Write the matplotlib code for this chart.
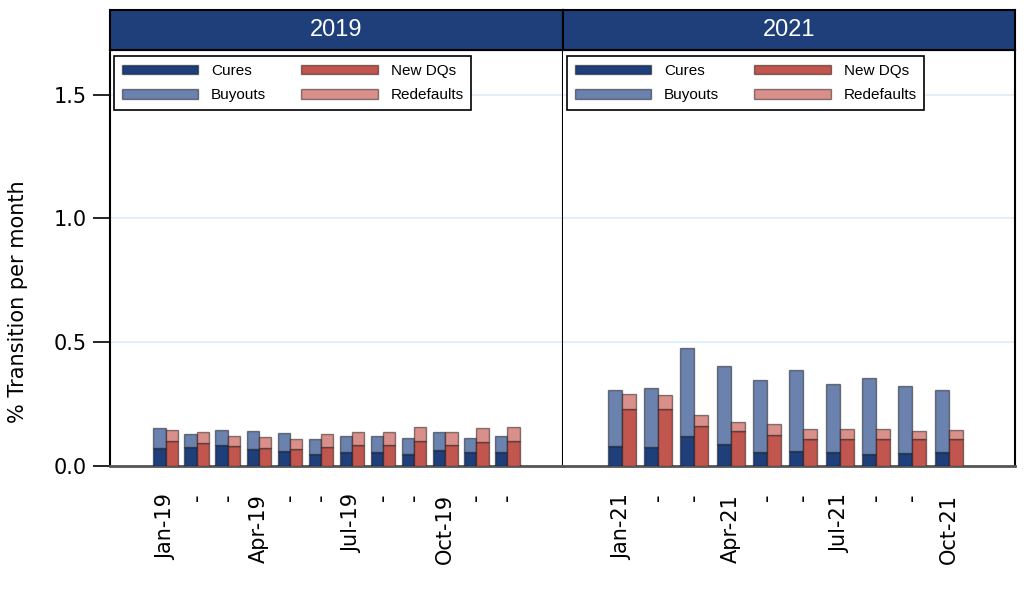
import numpy as np
import matplotlib.pyplot as plt

# data (% transition per month)
months_19 = ['Jan-19', '-', '-', 'Apr-19', '-', '-', 'Jul-19', '-', '-', 'Oct-19', '-', '-']
cures_19 = [0.073, 0.078, 0.084, 0.068, 0.062, 0.049, 0.055, 0.058, 0.049, 0.065, 0.055, 0.058]
buyouts_19 = [0.079, 0.052, 0.061, 0.074, 0.073, 0.060, 0.068, 0.065, 0.064, 0.071, 0.060, 0.065]
newdq_19 = [0.100, 0.092, 0.080, 0.074, 0.068, 0.077, 0.084, 0.085, 0.100, 0.084, 0.097, 0.100]
redef_19 = [0.046, 0.047, 0.040, 0.043, 0.041, 0.054, 0.052, 0.053, 0.057, 0.052, 0.057, 0.057]

months_21 = ['Jan-21', '-', '-', 'Apr-21', '-', '-', 'Jul-21', '-', '-', 'Oct-21']
cures_21 = [0.080, 0.077, 0.122, 0.090, 0.057, 0.060, 0.055, 0.049, 0.054, 0.057]
buyouts_21 = [0.228, 0.238, 0.353, 0.312, 0.290, 0.329, 0.276, 0.305, 0.270, 0.248]
newdq_21 = [0.231, 0.230, 0.163, 0.140, 0.124, 0.111, 0.111, 0.108, 0.109, 0.109]
redef_21 = [0.061, 0.055, 0.041, 0.039, 0.045, 0.038, 0.038, 0.041, 0.033, 0.037]

c_cures = '#1F3F7B'
c_buy = '#6A82AD'
c_new = '#C0564D'
c_red = '#D98F8A'
navy = '#1F3F7A'
edge = (0, 0, 0, 0.45)

W, H = 1024, 601
fig = plt.figure(figsize=(W / 100, H / 100), dpi=100)

ax_l, ax_r = 110, 1015
mid = 563
bot, top, head_top = 466, 50, 10

panels = [
    ('2019', ax_l, mid, months_19, cures_19, buyouts_19, newdq_19, redef_19, (-1.8, 12.8), 0.4),
    ('2021', mid, ax_r, months_21, cures_21, buyouts_21, newdq_21, redef_21, (-1.62, 10.83), 0.385),
]

for i, (title, x0, x1, months, cu, bu, nd, rd, xl, w) in enumerate(panels):
    ax = fig.add_axes([x0 / W, 1 - bot / H, (x1 - x0) / W, (bot - top) / H])
    x = np.arange(len(months))
    ax.bar(x - w / 2, cu, w, color=c_cures, edgecolor=edge, lw=1, label='Cures', zorder=3)
    ax.bar(x - w / 2, bu, w, bottom=cu, color=c_buy, edgecolor=edge, lw=1, label='Buyouts', zorder=3)
    ax.bar(x + w / 2, nd, w, color=c_new, edgecolor=edge, lw=1, label='New DQs', zorder=3)
    ax.bar(x + w / 2, rd, w, bottom=nd, color=c_red, edgecolor=edge, lw=1, label='Redefaults', zorder=3)

    ax.set_xlim(*xl)
    ax.set_ylim(0, 1.68)
    for g in [0.5, 1.0, 1.5]:
        ax.axhline(g, color='#DDEBF7', lw=1.2, zorder=1)

    ax.set_xticks(x)
    ax.set_xticklabels(months, rotation=90, fontsize=15)
    ax.tick_params(axis='x', length=0, pad=20)

    ax.set_yticks([0, 0.5, 1.0, 1.5])
    if i == 0:
        ax.set_yticklabels(['0.0', '0.5', '1.0', '1.5'], fontsize=15)
        ax.tick_params(axis='y', length=12, width=1.2, direction='out', pad=5)
        ax.spines['left'].set_linewidth(1.5)
    else:
        ax.tick_params(axis='y', left=False, labelleft=False)
        ax.spines['left'].set_visible(False)
    for s in ['top', 'right']:
        ax.spines[s].set_linewidth(1.5)
        ax.spines[s].set_color('black')
    ax.spines['bottom'].set_color('#555555')
    ax.spines['bottom'].set_linewidth(2)

    leg = ax.legend(ncol=2, loc='upper left',
                    bbox_to_anchor=(4 / (x1 - x0), 1 - 6 / (bot - top)),
                    borderaxespad=0, fancybox=False, edgecolor='black', framealpha=1,
                    handlelength=5.0, handleheight=0.55, handletextpad=0.85,
                    columnspacing=2.3, labelspacing=0.7, borderpad=0.5,
                    prop={'family': ['Liberation Sans'], 'size': 11})
    leg.get_frame().set_linewidth(1.2)
    leg.set_zorder(5)

    hx = fig.add_axes([x0 / W, 1 - top / H, (x1 - x0) / W, (top - head_top) / H])
    hx.set_facecolor(navy)
    hx.set_xticks([])
    hx.set_yticks([])
    for s in hx.spines.values():
        s.set_linewidth(1.5)
        s.set_color('black')
    hx.text(0.5, 0.5, title, color='white', ha='center', va='center',
            fontsize=17, family=['Liberation Sans'],
            transform=hx.transAxes)

fig.text(18 / W, 1 - 302 / H, '% Transition per month', rotation=90,
         ha='center', va='center', fontsize=15)

fig.savefig('out.png', dpi=100)
